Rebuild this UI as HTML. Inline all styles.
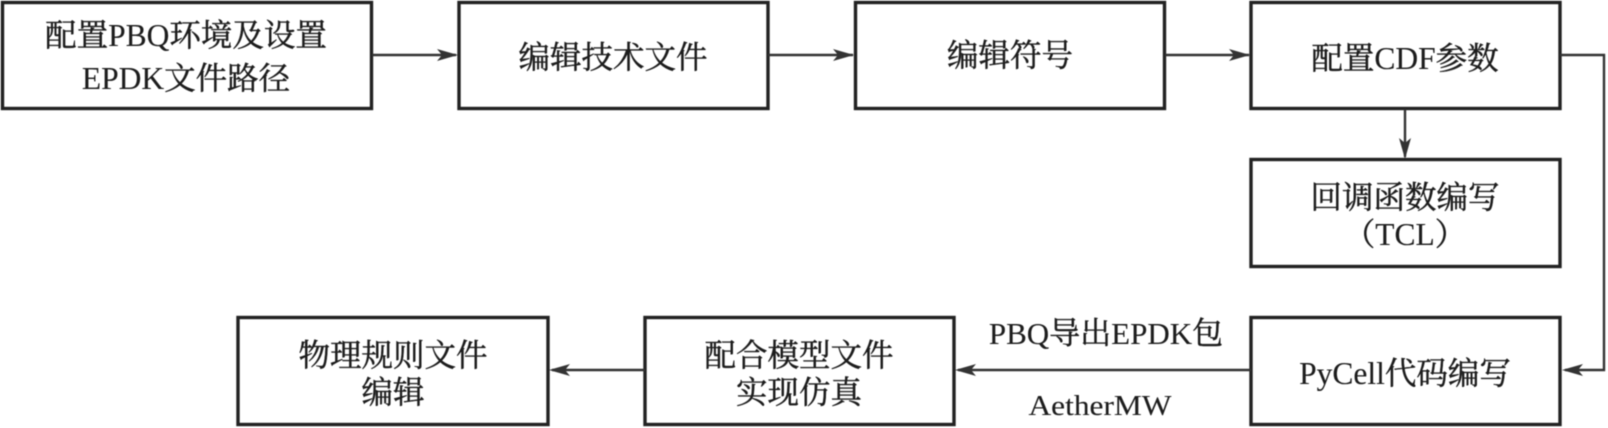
<!DOCTYPE html>
<html><head><meta charset="utf-8"><style>
html,body{margin:0;padding:0;background:#fff}
svg{display:block;filter:blur(.5px)}
text{font-family:"Liberation Serif","Noto Serif CJK SC",serif;font-size:31.5px;fill:#1c1c1c;stroke:#1c1c1c;stroke-width:.45;text-anchor:middle}
tspan{stroke-width:.1}
rect{fill:#fff;stroke:#222;stroke-width:3.4}
path.l{fill:none;stroke:#333;stroke-width:2.4}
path.a{fill:#333}
</style></head><body>
<svg width="1608" height="428" viewBox="0 0 1608 428" xmlns="http://www.w3.org/2000/svg">
<rect x="2.5" y="2.5" width="369" height="106"/>
<rect x="459" y="2.5" width="309" height="106"/>
<rect x="855.5" y="2.5" width="309" height="106"/>
<rect x="1251" y="2.5" width="309" height="106"/>
<rect x="1251" y="159.5" width="309" height="107"/>
<rect x="1251" y="317.5" width="309" height="107"/>
<rect x="645" y="317.5" width="309" height="107"/>
<rect x="238" y="317.5" width="310" height="107"/>
<path class="l" d="M372 55H456M768 55H853M1165 55H1249M1405 109V157M1560 55H1604V370H1565M1251 370H958M645 370H552"/>
<path class="a" d="M458 55L437 49L442 55L437 61Z"/>
<path class="a" d="M854 55L833 49L838 55L833 61Z"/>
<path class="a" d="M1250 55L1229 49L1234 55L1229 61Z"/>
<path class="a" d="M1405 159L1399 138L1405 143L1411 138Z"/>
<path class="a" d="M1562 370L1583 364L1578 370L1583 376Z"/>
<path class="a" d="M955 370L976 364L971 370L976 376Z"/>
<path class="a" d="M549 370L570 364L565 370L570 376Z"/>
<text x="186" y="46">配置<tspan>PBQ</tspan>环境及设置</text>
<text x="186" y="89"><tspan>EPDK</tspan>文件路径</text>
<text x="613" y="68">编辑技术文件</text>
<text x="1010" y="66">编辑符号</text>
<text x="1405" y="69">配置<tspan>CDF</tspan>参数</text>
<text x="1405" y="208">回调函数编写</text>
<text x="1405" y="245">（<tspan>TCL</tspan>）</text>
<text x="1405" y="384"><tspan>PyCell</tspan>代码编写</text>
<text x="799" y="366">配合模型文件</text>
<text x="799" y="403">实现仿真</text>
<text x="393" y="366">物理规则文件</text>
<text x="393" y="403">编辑</text>
<text x="1106" y="344" style="font-size:31px"><tspan>PBQ</tspan>导出<tspan>EPDK</tspan>包</text>
<text x="1100" y="415" textLength="143" lengthAdjust="spacingAndGlyphs" style="font-size:29px;stroke-width:.1">AetherMW</text>
</svg>
</body></html>
